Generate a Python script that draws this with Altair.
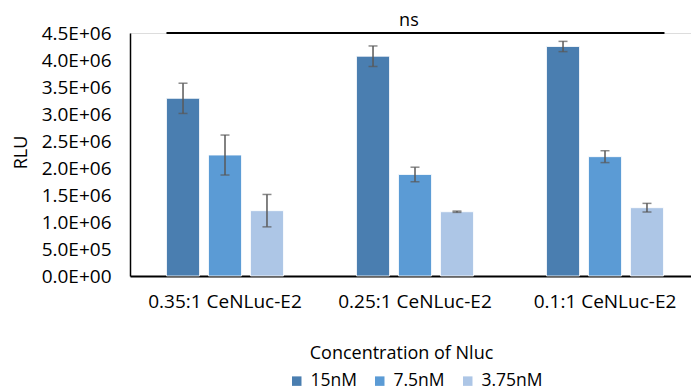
import altair as alt
import pandas as pd

groups = ["0.35:1 CeNLuc-E2", "0.25:1  CeNLuc-E2", "0.1:1 CeNLuc-E2"]
concs = ["15nM", "7.5nM", "3.75nM"]
colors = ["#4A7EB0", "#5B9BD5", "#ADC6E6"]

val_15 = [3.29e6, 4.07e6, 4.25e6]
val_75 = [2.24e6, 1.88e6, 2.21e6]
val_375 = [1.21e6, 1.19e6, 1.265e6]
err_15 = [0.28e6, 0.19e6, 0.095e6]
err_75 = [0.37e6, 0.135e6, 0.11e6]
err_375 = [0.30e6, 0.012e6, 0.08e6]

y_ticks = [0, 5e5, 1e6, 1.5e6, 2e6, 2.5e6, 3e6, 3.5e6, 4e6, 4.5e6]

rows = []
for c, vals, errs in [(concs[0], val_15, err_15), (concs[1], val_75, err_75), (concs[2], val_375, err_375)]:
    for g, v, e in zip(groups, vals, errs):
        rows.append({"group": g, "conc": c, "value": v, "lo": v - e, "hi": v + e})
df = pd.DataFrame(rows)

ns_df = pd.DataFrame([{"start": groups[0], "end": groups[2], "mid": groups[1], "y": 4.5e6, "label": "ns"}])

FONT = "Open Sans"

xscale = alt.Scale(domain=groups, paddingInner=0, paddingOuter=0, range=[0, 570])
oscale = alt.Scale(domain=concs, paddingInner=0.214, paddingOuter=0.87)
yscale = alt.Scale(domain=[0, 4.5e6], nice=False)

label_expr = ("datum.value == 0 ? '0.0E+00' : (datum.value < 1000000 ? format(datum.value/100000, '.1f') + 'E+05' "
              ": format(datum.value/1000000, '.1f') + 'E+06')")

x_axis = alt.Axis(title="Concentration of Nluc", labelAngle=0, ticks=False,
                  labelPadding=16, labelFontSize=19, labelColor="#000000",
                  labelOverlap=False, labelLimit=0,
                  domainColor="#000000", domainWidth=2,
                  titleFontSize=18, titleFontWeight="normal", titleColor="#000000",
                  titleX=271, titleY=77, titleBaseline="middle")
y_axis = alt.Axis(title="RLU", values=y_ticks, labelExpr=label_expr, ticks=False,
                  grid=False, labelPadding=19, labelFontSize=19, labelColor="#000000",
                  labelOverlap=False, labelBaseline="middle", labelLimit=0,
                  domainColor="#000000", domainWidth=1.5,
                  titleFontSize=18, titleFontWeight="normal", titleColor="#000000",
                  titleX=-109, titleY=119, titleBaseline="middle")


def xe(field="group:N", **kw):
    return alt.X(field, scale=xscale, sort=groups, axis=x_axis, **kw)


def ye(field):
    return alt.Y(field, scale=yscale, axis=y_axis)


xo_enc = alt.XOffset("conc:N", scale=oscale, sort=concs)

bars = alt.Chart(df).mark_bar(stroke="#ffffff", strokeWidth=0.8).encode(
    x=xe(),
    xOffset=xo_enc,
    y=ye("value:Q"),
    color=alt.Color("conc:N", sort=concs,
                    scale=alt.Scale(domain=concs, range=colors),
                    legend=alt.Legend(title=None, orient="none", direction="horizontal",
                                      legendX=158, legendY=339, symbolType="square",
                                      symbolSize=90, symbolStrokeWidth=0, labelFontSize=17.5,
                                      labelColor="#000000", columnPadding=14, labelOffset=5)),
)

err_rule = alt.Chart(df).mark_rule(color="#595959", strokeWidth=1.5).encode(
    x=xe(),
    xOffset=xo_enc,
    y=ye("lo:Q"),
    y2="hi:Q",
)
cap_lo = alt.Chart(df).mark_tick(color="#595959", thickness=1.5, size=9).encode(
    x=xe(),
    xOffset=xo_enc,
    y=ye("lo:Q"),
)
cap_hi = alt.Chart(df).mark_tick(color="#595959", thickness=1.5, size=9).encode(
    x=xe(),
    xOffset=xo_enc,
    y=ye("hi:Q"),
)

ns_rule = alt.Chart(ns_df).mark_rule(color="#000000", strokeWidth=2).encode(
    x=xe("start:N", bandPosition=0.192),
    x2=alt.X2("end:N", bandPosition=0.813),
    y=ye("y:Q"),
)
ns_text = alt.Chart(ns_df).mark_text(fontSize=18, font=FONT, color="#000000", dy=-12, baseline="middle").encode(
    x=xe("mid:N", bandPosition=0.468),
    y=ye("y:Q"),
    text="label:N",
)

chart = alt.layer(bars, err_rule, cap_lo, cap_hi, ns_rule, ns_text).properties(
    width=561, height=243,
    autosize=alt.AutoSizeParams(type="none"),
    padding={"left": 130, "top": 33, "right": 0, "bottom": 116},
    background="#ffffff",
).configure_view(stroke=None).configure(font=FONT)

chart.save("out.html", embed_options={"renderer": "svg", "actions": False})
